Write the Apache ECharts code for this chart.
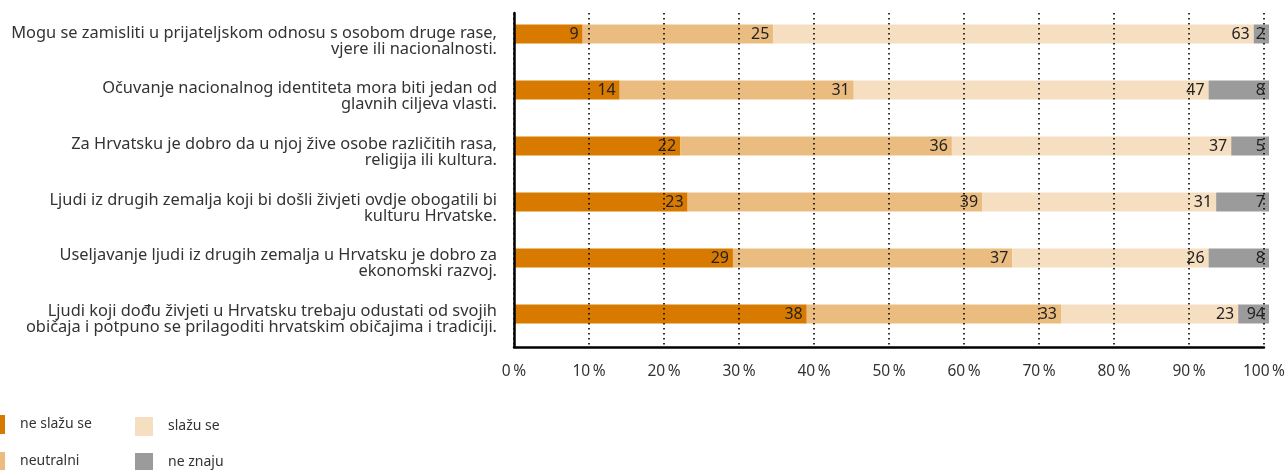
<!DOCTYPE html>
<html>
<head>
<meta charset="utf-8">
<script src="https://cdn.jsdelivr.net/npm/echarts@6/dist/echarts.min.js"></script>
<style>html,body{margin:0;padding:0;background:#fff}#c{width:1288px;height:470px}</style>
</head>
<body>
<div id="c"></div>
<script>
const categories = [
  'Mogu se zamisliti u prijateljskom odnosu s osobom druge rase,\nvjere ili nacionalnosti.',
  'Očuvanje nacionalnog identiteta mora biti jedan od\nglavnih ciljeva vlasti.',
  'Za Hrvatsku je dobro da u njoj žive osobe različitih rasa,\nreligija ili kultura.',
  'Ljudi iz drugih zemalja koji bi došli živjeti ovdje obogatili bi\nkulturu Hrvatske.',
  'Useljavanje ljudi iz drugih zemalja u Hrvatsku je dobro za\nekonomski razvoj.',
  'Ljudi koji dođu živjeti u Hrvatsku trebaju odustati od svojih\nobičaja i potpuno se prilagoditi hrvatskim običajima i tradiciji.'
];
const seriesNames = ['ne slažu se', 'neutralni', 'slažu se', 'ne znaju'];
const neSlazuSe = [9, 14, 22, 23, 29, 38];
const neutralni = [25, 31, 36, 39, 37, 33];
const slazuSe = [63, 47, 37, 31, 26, 23];
const neZnaju = [2, 8, 5, 7, 8, 4];
const neZnajuLabels = ['2', '8', '5', '7', '8', '94'];
const xTicks = [0, 10, 20, 30, 40, 50, 60, 70, 80, 90, 100];

const colors = ['#d87a00', '#ebbc80', '#f5dfc0', '#9b9b9b'];
const raw = [neSlazuSe, neutralni, slazuSe, neZnaju];
const totals = categories.map((_, i) => raw.reduce((s, a) => s + a[i], 0));

const chart = echarts.init(document.getElementById('c'));
const labelStyle = {
  show: true, position: 'insideRight', distance: 4,
  color: '#222', fontSize: 16, fontFamily: 'Noto Sans'
};
const series = raw.map((arr, k) => ({
  name: seriesNames[k],
  type: 'bar',
  stack: 'total',
  barWidth: 19,
  xAxisIndex: 1, yAxisIndex: 1,
  itemStyle: { color: colors[k] },
  data: arr.map((v, i) => v / totals[i] * 100),
  label: Object.assign({}, labelStyle, {
    formatter: p => k === 3 ? neZnajuLabels[p.dataIndex] : String(arr[p.dataIndex])
  })
}));

const legendPos = [[-18, 410], [-18, 447], [130, 412], [130, 448]];
const legends = seriesNames.map((n, k) => ({
  data: [n], left: legendPos[k][0], top: legendPos[k][1],
  itemWidth: 18, itemHeight: 19, icon: 'rect',
  textStyle: { fontSize: 14, color: '#333', padding: [0, 0, 0, 10], fontFamily: 'Noto Sans' }
}));

chart.setOption({
  animation: false,
  textStyle: { fontFamily: 'Noto Sans' },
  grid: [
    { left: 514, right: 19, top: 13, bottom: 123, containLabel: false },
    { left: 514, right: 19, top: 6, bottom: 128, containLabel: false }
  ],
  xAxis: [
    {
      type: 'value', gridIndex: 0, min: 0, max: 100, interval: 10, z: 10,
      axisLine: { show: true, lineStyle: { color: '#000', width: 2.5 } },
      axisTick: { show: false },
      axisLabel: {
        margin: 17, fontSize: 15.5, color: '#333', fontFamily: 'Noto Sans',
        formatter: v => xTicks.indexOf(v) >= 0 ? v + '\u2009%' : ''
      },
      splitLine: { show: true, lineStyle: { color: '#000', width: 1.6, type: [1.6, 3.4] } }
    },
    {
      type: 'value', gridIndex: 1, min: 0, max: 100, interval: 10, show: false,
      splitLine: { show: false }
    }
  ],
  yAxis: [
    {
      type: 'category', gridIndex: 0, data: categories, inverse: true, z: 10,
      axisLine: { show: true, lineStyle: { color: '#000', width: 2.5 } },
      axisTick: { show: false },
      axisLabel: {
        margin: 17, fontSize: 16.4, lineHeight: 16, color: '#333', align: 'right',
        fontFamily: 'Noto Sans'
      }
    },
    {
      type: 'category', gridIndex: 1, data: categories, inverse: true, show: false
    }
  ],
  legend: legends,
  series: series
});
</script>
</body>
</html>
